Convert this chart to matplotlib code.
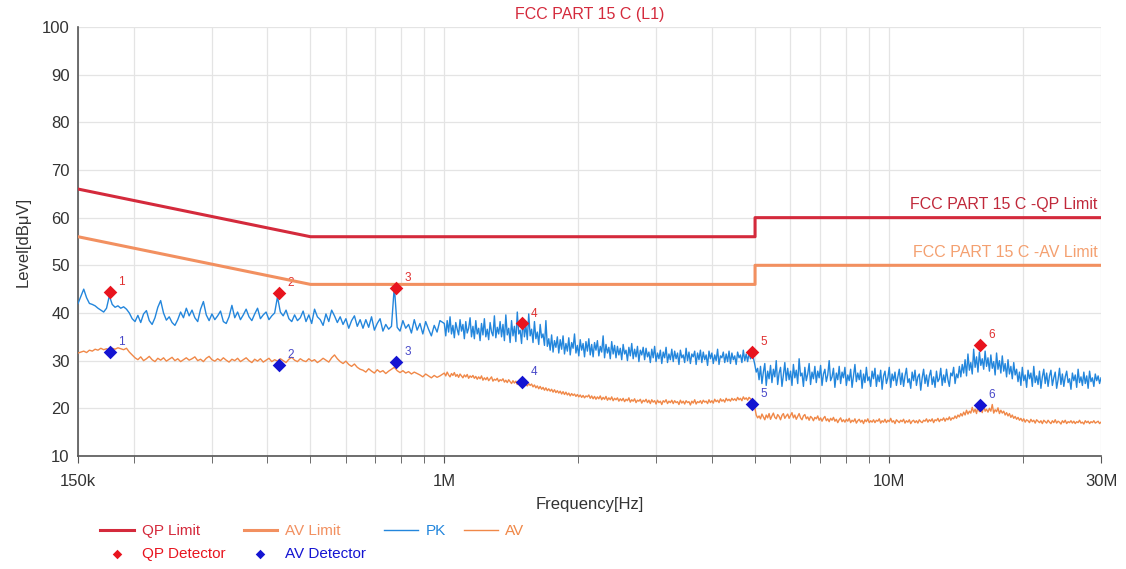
import numpy as np
import matplotlib
matplotlib.use("Agg")
import matplotlib.pyplot as plt
from matplotlib.ticker import FixedLocator, NullFormatter

plt.rcParams['font.family'] = ['Liberation Sans', 'DejaVu Sans']

# limit lines (frequency in Hz, level in dBuV)
qp_limit_f = [150e3, 500e3, 5e6, 5e6, 30e6]
qp_limit_v = [66, 56, 56, 60, 60]
av_limit_f = [150e3, 500e3, 5e6, 5e6, 30e6]
av_limit_v = [56, 46, 46, 50, 50]

# detector points
det_f = [177e3, 425e3, 779e3, 1.496e6, 4.92e6, 16.0e6]
qp_det = [44.5, 44.2, 45.2, 37.8, 31.8, 33.2]
av_det = [31.8, 29.0, 29.8, 25.5, 21.0, 20.7]

# sweep: coarse part 150k..~1M, fine part 1M..30M
lo_f = np.geomspace(150e3, 30e6, 360)[:128]
hi_f = np.geomspace(1e6, 30e6, 460)

pk_lo = [
    42.0, 43.5, 45.0, 43.2, 42.0, 41.8, 41.5, 41.0, 40.6, 40.2, 41.0, 43.6, 41.8, 41.2, 41.5, 41.0, 41.3, 40.8, 40.0, 38.8,
    38.2, 39.5, 38.0, 39.8, 40.5, 38.4, 37.6, 39.0, 41.2, 42.6, 40.0, 38.5, 39.2, 38.0, 37.4, 38.6, 40.2, 39.0, 41.0, 39.4,
    40.6, 39.0, 38.2, 40.8, 42.4, 39.6, 38.4, 39.8, 38.6, 39.4, 40.4, 38.2, 37.8, 39.2, 41.6, 39.0, 40.2, 38.6, 39.6, 40.8,
    39.2, 38.4, 39.8, 41.0, 38.8, 39.6, 40.2, 38.6, 39.4, 40.0, 43.4, 40.2, 39.4, 40.6, 38.8, 38.2, 39.6, 38.4, 39.0, 40.4,
    38.2, 39.6, 37.8, 40.8, 39.2, 38.6, 37.4, 39.8, 38.2, 40.6, 39.4, 38.0, 39.2, 37.6, 38.8, 36.8, 38.4, 39.4, 37.2, 38.6,
    36.8, 38.6, 37.0, 39.2, 36.4, 37.8, 38.8, 36.2, 37.6, 36.6, 37.2, 45.6, 37.0, 36.2, 38.4, 36.8, 37.6, 35.8, 38.6, 36.4,
    37.8, 35.6, 38.2, 36.6, 35.2, 37.4, 36.0, 38.4,
]
av_lo = [
    31.6, 31.8, 32.0, 31.7, 32.2, 32.0, 32.4, 32.2, 32.6, 32.3, 32.5, 32.2, 32.6, 32.4, 32.7, 32.5, 32.3, 32.6, 31.8, 31.2,
    30.6, 30.2, 30.8, 30.0, 30.4, 30.9, 30.2, 29.8, 30.5, 30.1, 30.6, 29.9, 30.3, 30.7, 30.0, 30.4, 29.8, 30.2, 30.6, 30.1,
    30.4, 30.8, 30.0, 30.3, 29.8, 30.5, 30.9, 30.2, 29.9, 30.4, 30.0, 30.6, 30.1, 29.7, 30.3, 30.0, 30.5, 29.8, 30.2, 30.6,
    30.0, 29.6, 30.3, 29.9, 30.4, 29.7, 30.1, 30.5, 29.8, 30.2, 29.9, 30.4, 30.0, 29.6, 30.3, 30.7, 30.1, 29.8, 30.4, 30.0,
    29.8, 30.4, 29.9, 30.2, 29.6, 30.0, 30.5, 30.1, 29.7, 30.6, 31.2, 30.4, 29.8, 29.4, 29.9, 29.2, 28.8, 29.3, 28.6, 28.2,
    28.0, 27.6, 28.3, 27.8, 27.4, 28.1, 27.6, 27.9, 27.3, 27.8, 28.2, 28.6, 27.9, 27.5, 27.9, 27.4, 27.7, 27.2, 27.6, 27.3,
    27.0, 26.6, 27.2, 26.8, 26.4, 26.9, 26.5, 26.8,
]
pk_hi = [
    37.8, 35.2, 38.4, 36.0, 39.2, 35.6, 37.4, 34.8, 38.0, 36.6, 35.4, 38.6, 36.2, 37.6, 34.6, 38.2, 35.8, 36.8, 39.0, 35.0,
    37.2, 34.6, 38.4, 35.6, 36.8, 34.2, 37.8, 35.4, 38.8, 35.0, 36.6, 34.4, 38.0, 36.0, 35.2, 39.4, 34.8, 37.0, 35.6, 38.2,
    35.0, 37.6, 34.2, 39.6, 35.4, 36.8, 33.8, 38.4, 35.2, 37.2, 34.0, 40.2, 35.6, 36.4, 33.6, 38.8, 35.0, 37.4, 34.4, 39.8,
    35.2, 36.6, 33.8, 38.2, 34.6, 36.0, 33.4, 37.6, 34.8, 35.6, 33.2, 38.4, 33.0, 34.6, 32.2, 35.4, 31.8, 34.2, 32.8, 35.0,
    31.6, 34.4, 32.4, 35.2, 31.4, 33.6, 32.0, 34.8, 31.2, 33.8, 32.6, 35.6, 31.6, 33.2, 31.0, 34.4, 32.2, 33.6, 30.8, 34.0,
    32.0, 34.6, 31.2, 33.4, 30.8, 33.8, 32.2, 34.2, 31.0, 33.0, 31.8, 35.2, 30.6, 33.4, 31.6, 32.8, 30.4, 34.0, 31.4, 33.2,
    30.6, 33.0, 31.2, 32.6, 30.2, 33.4, 31.4, 32.2, 30.0, 32.8, 31.0, 33.6, 30.4, 32.4, 30.8, 33.0, 29.8, 32.2, 31.2, 32.8,
    30.2, 32.6, 30.8, 31.8, 29.6, 32.4, 30.6, 33.0, 29.8, 31.6, 30.4, 32.2, 29.4, 31.8, 30.6, 32.8, 29.6, 31.4, 30.2, 32.4,
    29.8, 32.0, 30.4, 31.6, 29.2, 32.2, 30.6, 31.2, 29.6, 32.6, 30.0, 31.8, 29.4, 31.4, 30.8, 32.0, 29.2, 31.6, 30.2, 32.2,
    29.6, 31.8, 30.2, 31.2, 29.0, 32.0, 30.4, 31.6, 29.4, 31.2, 30.0, 32.4, 29.2, 31.0, 30.6, 31.8, 29.6, 31.4, 29.8, 32.0,
    29.4, 31.6, 30.2, 31.0, 29.2, 31.8, 30.6, 31.2, 29.6, 32.2, 30.0, 31.4, 29.8, 31.6, 30.4, 31.0, 30.6, 29.2, 27.6, 28.4,
    26.0, 28.8, 25.2, 27.6, 29.4, 24.8, 27.8, 26.2, 29.0, 25.4, 28.2, 26.6, 30.0, 25.0, 27.4, 28.6, 24.6, 27.0, 29.6, 25.8,
    28.4, 26.0, 27.8, 24.8, 29.2, 26.4, 28.0, 25.2, 30.4, 26.8, 27.4, 24.6, 28.6, 25.8, 27.2, 29.4, 25.0, 27.6, 26.2, 28.8,
    25.4, 27.8, 26.4, 29.0, 24.8, 27.2, 28.2, 25.6, 27.0, 30.0, 25.8, 26.6, 28.4, 24.4, 27.4, 26.0, 28.8, 25.2, 27.6, 26.4,
    28.6, 24.8, 27.0, 25.8, 28.2, 24.4, 26.8, 29.2, 25.6, 27.4, 26.0, 28.0, 24.2, 27.2, 25.4, 28.6, 25.8, 26.6, 24.6, 27.8,
    26.2, 28.4, 24.6, 27.0, 25.6, 28.0, 24.0, 26.8, 27.8, 25.2, 26.4, 28.6, 24.4, 27.2, 25.8, 27.6, 24.8, 26.6, 28.2, 25.0,
    27.4, 24.6, 26.8, 28.4, 25.4, 26.2, 24.2, 27.6, 25.8, 28.0, 24.8, 26.6, 27.2, 23.8, 26.4, 28.2, 25.2, 27.0, 24.6, 26.8,
    28.0, 25.0, 26.6, 24.4, 27.8, 25.6, 26.2, 28.4, 24.8, 27.0, 25.4, 28.2, 26.0, 24.6, 27.4, 26.8, 28.6, 25.2, 27.2, 26.4,
    28.8, 26.6, 29.2, 27.4, 30.2, 26.8, 31.4, 28.0, 29.6, 27.2, 32.4, 28.6, 30.8, 27.6, 31.8, 29.0, 30.4, 28.2, 32.0, 28.8,
    30.6, 27.8, 31.2, 28.4, 29.8, 27.0, 31.6, 28.2, 30.0, 27.4, 31.0, 27.8, 29.4, 26.6, 30.2, 27.2, 28.8, 26.2, 29.6, 27.0,
    28.2, 25.6, 27.6, 24.8, 28.6, 25.8, 27.0, 24.4, 28.0, 26.2, 27.4, 24.6, 28.8, 25.4, 26.8, 25.0, 27.8, 24.2, 26.6, 28.2,
    25.2, 27.4, 24.6, 26.8, 28.0, 24.8, 26.4, 27.6, 24.2, 26.0, 28.4, 25.0, 27.2, 24.6, 26.6, 27.8, 25.4, 26.2, 24.0, 27.4,
    25.8, 27.0, 24.4, 28.2, 25.4, 26.6, 24.8, 27.6, 25.2, 26.8, 24.2, 27.8, 25.6, 26.4, 24.6, 27.2, 25.8, 26.8, 25.2, 26.4,
]
av_hi = [
    27.4, 26.8, 27.6, 27.0, 26.6, 27.3, 26.9, 27.5, 26.7, 27.1, 26.5, 27.2, 26.8, 26.4, 27.0, 26.6, 27.1, 26.3, 26.8, 26.5,
    26.9, 26.3, 26.7, 26.1, 26.6, 26.2, 26.8, 25.9, 26.4, 26.0, 26.5, 25.8, 26.2, 26.6, 25.7, 26.1, 25.9, 26.3, 25.6, 26.0,
    25.8, 26.2, 25.5, 25.9, 25.4, 26.0, 25.6, 25.2, 25.8, 25.3, 25.7, 25.0, 25.5, 25.1, 25.6, 24.9, 25.3, 25.0, 24.7, 25.2,
    24.8, 25.1, 24.5, 24.9, 24.3, 24.7, 24.1, 24.6, 24.0, 24.4, 23.8, 24.3, 23.7, 24.1, 23.6, 24.0, 23.4, 23.9, 23.3, 23.7,
    23.2, 23.6, 23.0, 23.5, 22.9, 23.4, 22.8, 23.2, 22.6, 23.1, 22.7, 23.0, 22.5, 22.9, 22.4, 22.8, 22.3, 22.7, 22.2, 22.6,
    22.4, 22.8, 22.1, 22.6, 22.0, 22.5, 21.9, 22.4, 22.0, 22.6, 21.8, 22.3, 21.9, 22.5, 21.7, 22.2, 21.8, 22.4, 21.6, 22.1,
    21.8, 22.2, 21.5, 22.0, 21.6, 22.1, 21.4, 21.9, 21.6, 22.2, 21.3, 21.8, 21.5, 22.0, 21.2, 21.7, 21.5, 21.9, 21.1, 21.7,
    21.4, 21.9, 21.2, 21.7, 21.0, 21.8, 21.3, 21.6, 20.9, 21.7, 21.2, 21.5, 20.8, 21.6, 21.3, 21.8, 21.0, 21.5, 21.2, 21.7,
    21.0, 21.6, 21.2, 21.4, 20.8, 21.7, 21.1, 21.5, 20.9, 21.6, 21.2, 21.4, 20.7, 21.5, 21.1, 21.8, 20.9, 21.4, 21.2, 21.6,
    21.0, 21.7, 21.3, 21.5, 21.0, 21.8, 21.2, 21.6, 21.1, 21.9, 21.4, 21.7, 21.2, 22.0, 21.5, 21.8, 21.3, 22.1, 21.6, 21.9,
    21.5, 22.1, 21.7, 22.0, 21.6, 22.3, 21.8, 22.1, 21.6, 22.4, 21.9, 22.2, 21.7, 22.3, 22.0, 21.8, 21.4, 20.2, 18.6, 18.0,
    18.4, 17.8, 18.8, 18.2, 17.6, 18.6, 18.0, 18.9, 17.7, 18.4, 19.0, 18.1, 17.8, 18.7, 18.3, 17.6, 18.5, 18.9, 17.9, 18.4,
    18.8, 17.9, 18.5, 19.1, 18.0, 18.6, 17.7, 18.3, 18.9, 18.0, 17.6, 18.4, 18.7, 17.8, 18.2, 17.5, 18.3, 18.0, 17.4, 18.1,
    17.8, 18.4, 17.5, 18.0, 17.3, 17.9, 18.3, 17.4, 17.8, 17.2, 17.9, 17.5, 18.1, 17.3, 17.7, 17.0, 17.6, 18.0, 17.2, 17.6,
    17.1, 17.7, 17.3, 17.9, 17.0, 17.5, 17.2, 17.8, 16.9, 17.4, 17.7, 17.1, 17.5, 16.8, 17.6, 17.2, 17.8, 17.0, 17.4, 17.1,
    17.6, 17.0, 17.5, 17.3, 17.8, 16.9, 17.4, 17.1, 17.7, 17.0, 17.5, 17.2, 17.9, 17.1, 17.4, 16.8, 17.6, 17.3, 17.0, 17.5,
    17.2, 17.7, 16.9, 17.4, 17.1, 17.6, 16.8, 17.3, 17.5, 17.0, 17.4, 16.9, 17.6, 17.2, 17.0, 17.5, 17.3, 17.8, 17.1, 17.6,
    17.3, 17.8, 17.0, 17.6, 17.4, 17.9, 17.2, 17.7, 17.5, 18.0, 17.3, 17.9, 17.6, 18.2, 17.5, 18.0, 17.8, 18.4, 17.9, 18.6,
    18.2, 18.9, 18.4, 19.2, 18.6, 19.6, 18.8, 19.4, 19.0, 20.2, 19.2, 19.8, 18.9, 20.4, 19.3, 19.9, 19.1, 20.6, 19.4, 19.8,
    19.2, 20.0, 19.4, 20.8, 19.0, 19.7, 19.3, 20.1, 18.9, 19.6, 19.0, 19.4, 18.6, 19.1, 18.4, 18.9, 18.1, 18.6, 17.9, 18.3,
    17.7, 18.1, 17.5, 17.9, 17.3, 17.8, 17.1, 17.6, 17.4, 17.0, 17.7, 17.2, 17.5, 16.9, 17.6, 17.3, 17.0, 17.4, 16.8, 17.5,
    17.2, 16.9, 17.5, 17.1, 16.8, 17.4, 17.0, 17.6, 16.9, 17.3, 17.1, 16.7, 17.4, 17.0, 17.5, 16.8, 17.2, 17.0, 17.4, 16.9,
    17.3, 16.8, 17.2, 17.0, 17.5, 16.9, 17.1, 16.7, 17.4, 17.0, 17.3, 16.8, 17.2, 17.0, 17.4, 16.9, 17.1, 17.3, 16.8, 17.1,
]

xtick_pos = [150e3, 1e6, 10e6, 30e6]
xtick_lbl = ['150k', '1M', '10M', '30M']
minor_pos = [2e5, 3e5, 4e5, 5e5, 6e5, 7e5, 8e5, 9e5,
             2e6, 3e6, 4e6, 5e6, 6e6, 7e6, 8e6, 9e6, 20e6]

c_qp = '#d42a3c'
c_avl = '#f29060'
c_pk = '#2386dc'
c_av = '#f08848'
c_qpd = '#e8141e'
c_avd = '#1414d2'

sweep_f = np.concatenate([lo_f, hi_f])
pk_trace = pk_lo + pk_hi
av_trace = av_lo + av_hi

fig = plt.figure(figsize=(11.26, 5.69), dpi=100)
ax = fig.add_axes([0.0693, 0.1986, 0.9085, 0.754])

ax.plot(sweep_f, pk_trace, color=c_pk, lw=1, label='PK', zorder=3)
ax.plot(sweep_f, av_trace, color=c_av, lw=1, label='AV', zorder=3)
ax.plot(qp_limit_f, qp_limit_v, color=c_qp, lw=2.2, label='QP Limit', zorder=4)
ax.plot(av_limit_f, av_limit_v, color=c_avl, lw=2.2, label='AV Limit', zorder=4)
ax.scatter(det_f, qp_det, marker='D', s=48, color=c_qpd, label='QP Detector', zorder=5, linewidths=0)
ax.scatter(det_f, av_det, marker='D', s=48, color=c_avd, label='AV Detector', zorder=5, linewidths=0)

for i in range(len(det_f)):
    ax.annotate(str(i + 1), (det_f[i], qp_det[i]), xytext=(6, 5), textcoords='offset points',
                color='#e03030', fontsize=8.5)
    ax.annotate(str(i + 1), (det_f[i], av_det[i]), xytext=(6, 5), textcoords='offset points',
                color='#4848c8', fontsize=8.5)

ax.text(29.5e6, 61.2, 'FCC PART 15 C -QP Limit', color='#c0283a', fontsize=11.5, ha='right', va='bottom')
ax.text(29.5e6, 51.2, 'FCC PART 15 C -AV Limit', color='#f4a070', fontsize=11.5, ha='right', va='bottom')

ax.set_xscale('log')
ax.set_xlim(150e3, 30e6)
ax.set_ylim(10, 100)
ax.xaxis.set_major_locator(FixedLocator(xtick_pos))
ax.set_xticklabels(xtick_lbl)
ax.xaxis.set_minor_locator(FixedLocator(minor_pos))
ax.xaxis.set_minor_formatter(NullFormatter())
ax.set_yticks(range(10, 101, 10))

ax.grid(True, which='both', color='#e4e4e4', lw=0.9, zorder=0)
ax.set_axisbelow(True)
for s in ['top', 'right']:
    ax.spines[s].set_visible(False)
for s in ['left', 'bottom']:
    ax.spines[s].set_color('#555555')
    ax.spines[s].set_linewidth(1.2)
ax.tick_params(axis='x', which='both', direction='out', length=5, color='#555555',
               labelsize=12, pad=8, labelcolor='#333333')
ax.tick_params(axis='y', length=0, labelsize=12, pad=6, labelcolor='#333333')

ax.set_title('FCC PART 15 C (L1)', color='#d42a3c', fontsize=11.5, pad=6)
ax.set_xlabel('Frequency[Hz]', fontsize=12, color='#333333', labelpad=6)
ax.set_ylabel('Level[dBμV]', fontsize=12, color='#333333', labelpad=8)

handles, labels = ax.get_legend_handles_labels()
order = ['QP Limit', 'QP Detector', 'AV Limit', 'AV Detector', 'PK', 'AV']
hmap = dict(zip(labels, handles))
leg = fig.legend([hmap[k] for k in order], order, ncol=4, frameon=False,
                 loc='upper left', bbox_to_anchor=(0.077, 0.103), fontsize=11,
                 handlelength=2.2, columnspacing=1.2, labelspacing=0.55, handletextpad=0.5,
                 markerscale=0.7)
text_colors = {'QP Limit': c_qp, 'QP Detector': c_qpd, 'AV Limit': c_avl,
               'AV Detector': c_avd, 'PK': c_pk, 'AV': c_av}
for t in leg.get_texts():
    t.set_color(text_colors[t.get_text()])

fig.savefig('out.png', dpi=100)
